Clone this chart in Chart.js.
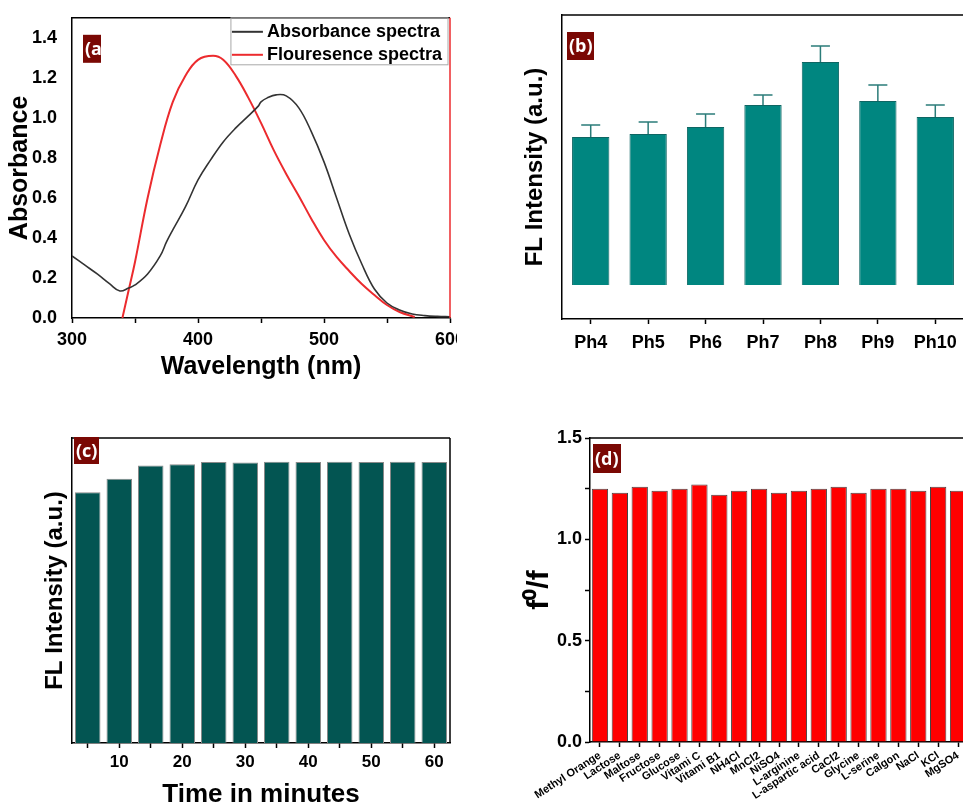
<!DOCTYPE html>
<html>
<head>
<meta charset="utf-8">
<script src="https://cdn.jsdelivr.net/npm/chart.js@4.4.1/dist/chart.umd.min.js"></script>
<style>
  html, body { margin: 0; padding: 0; background: #fff; }
  body { width: 963px; height: 805px; position: relative; overflow: hidden; }
  .panel { position: absolute; overflow: hidden; }
  .panel canvas { position: absolute; left: 0; top: 0; }
</style>
</head>
<body>
<div class="panel" style="left:0;top:0;width:457px;height:400px"><canvas id="chartA" width="490" height="400"></canvas></div>
<div class="panel" style="left:490px;top:0;width:473px;height:400px"><canvas id="chartB" width="490" height="400"></canvas></div>
<div class="panel" style="left:0;top:420px;width:470px;height:385px"><canvas id="chartC" width="470" height="400"></canvas></div>
<div class="panel" style="left:490px;top:420px;width:473px;height:385px"><canvas id="chartD" width="490" height="400"></canvas></div>
<script>
// (a) spectra
const absWl = [300, 310, 320, 330, 338, 345, 350, 360, 370, 375, 380, 390, 400, 410, 420, 430, 440, 448, 450, 455, 462, 470, 480, 490, 500, 510, 520, 530, 540, 550, 560, 570, 580, 590, 600]
const absVal = [0.31, 0.265, 0.22, 0.17, 0.135, 0.15, 0.165, 0.22, 0.31, 0.38, 0.44, 0.555, 0.69, 0.79, 0.88, 0.95, 1.01, 1.06, 1.08, 1.10, 1.115, 1.11, 1.05, 0.93, 0.78, 0.60, 0.42, 0.27, 0.145, 0.075, 0.04, 0.02, 0.012, 0.008, 0.006]
const flWl = [340, 345, 350, 360, 370, 380, 390, 400, 412, 420, 430, 440, 450, 460, 470, 480, 490, 500, 510, 520, 530, 540, 550, 560, 572]
const flVal = [0.0, 0.14, 0.28, 0.60, 0.865, 1.08, 1.21, 1.29, 1.31, 1.29, 1.21, 1.10, 0.975, 0.84, 0.72, 0.61, 0.495, 0.39, 0.305, 0.235, 0.17, 0.115, 0.065, 0.03, 0.005]

// (b) pH
const phLabels = ['Ph4', 'Ph5', 'Ph6', 'Ph7', 'Ph8', 'Ph9', 'Ph10']
const phValues = [148, 151, 158, 180, 223, 184, 168]
const phErrors = [12, 12, 13, 10, 16, 16, 12]

// (c) time
const timeLabels = ['5', '10', '15', '20', '25', '30', '35', '40', '45', '50', '55', '60']
const timeValues = [822, 866, 910, 914, 921, 920, 922, 921, 922, 921, 922, 921]

// (d) interference
const ionLabels = ['Methyl Orange', 'Lactose', 'Maltose', 'Fructose', 'Glucose', 'Vitami C', 'Vitami B1', 'NH4Cl', 'MnCl2', 'NiSO4', 'L-arginine', 'L-aspartic acid', 'CaCl2', 'Glycine', 'L-serine', 'Calgon', 'NaCl', 'KCl', 'MgSO4']
const ionValues = [1.25, 1.23, 1.26, 1.24, 1.25, 1.27, 1.22, 1.24, 1.25, 1.23, 1.24, 1.25, 1.26, 1.23, 1.25, 1.25, 1.24, 1.26, 1.24]

const FONT = '"Liberation Sans", Arial, Helvetica, sans-serif'
Chart.defaults.font.family = FONT
Chart.defaults.color = '#000'
Chart.defaults.animation = false
Chart.defaults.plugins.legend.display = false
Chart.defaults.plugins.tooltip.enabled = false

const axisBorder = { color: '#000', width: 1.5 }
const bold = (size) => ({ size, weight: 'bold' })

// top / right frame lines
const framePlugin = {
  id: 'frame',
  afterDraw(chart, args, opts) {
    const { ctx, chartArea: a } = chart
    ctx.save()
    ctx.lineWidth = 1.5
    ctx.strokeStyle = '#000'
    ctx.beginPath()
    ctx.moveTo(a.left, a.top)
    ctx.lineTo(a.right, a.top)
    ctx.stroke()
    if (opts.right) {
      ctx.strokeStyle = opts.right
      ctx.beginPath()
      ctx.moveTo(a.right, a.top)
      ctx.lineTo(a.right, a.bottom)
      ctx.stroke()
    }
    ctx.restore()
  },
}

// panel letter
const tagPlugin = {
  id: 'tag',
  afterDraw(chart, args, opts) {
    if (!opts.text) return
    const { ctx, chartArea: a } = chart
    const x = a.left + opts.dx
    const y = a.top + opts.dy
    ctx.save()
    ctx.fillStyle = '#7a0804'
    ctx.fillRect(x, y, opts.w, opts.h)
    ctx.fillStyle = '#fff'
    ctx.font = 'bold 18px "Open Sans", ' + FONT
    ctx.textBaseline = 'middle'
    ctx.fillText(opts.text, x + 2, y + opts.h / 2 + 1)
    ctx.restore()
  },
}

// upper error bars
const errorBarPlugin = {
  id: 'errorBars',
  afterDatasetsDraw(chart, args, opts) {
    if (!opts.errors) return
    const { ctx } = chart
    const yScale = chart.scales.y
    const values = chart.data.datasets[0].data
    ctx.save()
    ctx.strokeStyle = opts.color
    ctx.lineWidth = 1.5
    chart.getDatasetMeta(0).data.forEach((bar, i) => {
      const top = yScale.getPixelForValue(values[i] + opts.errors[i])
      ctx.beginPath()
      ctx.moveTo(bar.x, bar.y)
      ctx.lineTo(bar.x, top)
      ctx.moveTo(bar.x - 9.5, top)
      ctx.lineTo(bar.x + 9.5, top)
      ctx.stroke()
    })
    ctx.restore()
  },
}

// boxed legend inside the plot, top right
const boxLegendPlugin = {
  id: 'boxLegend',
  afterDraw(chart, args, opts) {
    if (!opts.show) return
    const { ctx, chartArea: a } = chart
    const sets = chart.data.datasets
    ctx.save()
    ctx.font = 'bold 18px ' + FONT
    const textW = Math.max(...sets.map((d) => ctx.measureText(d.label).width))
    const w = 36 + textW + 6
    const rowH = 23
    const x0 = a.right - w - 2
    const y0 = a.top
    ctx.strokeStyle = '#a8a8a8'
    ctx.lineWidth = 1
    ctx.strokeRect(x0, y0, w, sets.length * rowH + 1)
    sets.forEach((d, i) => {
      const y = y0 + 14 + i * rowH
      ctx.strokeStyle = d.borderColor
      ctx.lineWidth = 2
      ctx.beginPath()
      ctx.moveTo(x0 + 1, y)
      ctx.lineTo(x0 + 32, y)
      ctx.stroke()
      ctx.fillStyle = '#000'
      ctx.textBaseline = 'middle'
      ctx.fillText(d.label, x0 + 36, y)
    })
    ctx.restore()
  },
}

Chart.register(framePlugin, tagPlugin, errorBarPlugin, boxLegendPlugin)

new Chart(document.getElementById('chartA'), {
  type: 'line',
  data: {
    datasets: [
      {
        label: 'Absorbance spectra',
        data: absWl.map((x, i) => ({ x, y: absVal[i] })),
        borderColor: '#333333',
        borderWidth: 1.6,
        pointRadius: 0,
        tension: 0.4,
      },
      {
        label: 'Flouresence spectra',
        data: flWl.map((x, i) => ({ x, y: flVal[i] })),
        borderColor: '#ec2b2e',
        borderWidth: 2,
        pointRadius: 0,
        tension: 0.4,
      },
    ],
  },
  options: {
    responsive: false,
    layout: { padding: { left: 0, top: 15, right: 40, bottom: 0 } },
    scales: {
      x: {
        type: 'linear',
        min: 300,
        max: 600,
        ticks: { stepSize: 50, maxRotation: 0, autoSkip: false, padding: 6, font: bold(18), callback: (v) => (v % 100 === 0 ? v : '') },
        grid: { drawOnChartArea: false, tickLength: 5, color: '#000', tickWidth: 1.5 },
        border: axisBorder,
        title: { display: true, text: 'Wavelength (nm)', font: bold(25), padding: { top: 0, bottom: 18 } },
        afterFit: (s) => { s.height = 82 },
      },
      y: {
        min: 0,
        max: 1.5,
        ticks: { stepSize: 0.2, includeBounds: false, padding: 7, font: bold(18), callback: (v) => v.toFixed(1) },
        grid: { display: false },
        border: axisBorder,
        title: { display: true, text: 'Absorbance', font: bold(25), padding: { top: 5, bottom: 0 } },
        afterFit: (s) => { s.width = 72 },
      },
    },
    plugins: {
      frame: { right: '#ec2b2e' },
      tag: { text: '(a', dx: 11, dy: 17, w: 18, h: 28 },
      boxLegend: { show: true },
    },
  },
})

new Chart(document.getElementById('chartB'), {
  type: 'bar',
  data: {
    labels: phLabels,
    datasets: [{
      data: phValues,
      backgroundColor: '#008680',
      borderColor: '#0e6663',
      borderWidth: 1,
      categoryPercentage: 1,
      barPercentage: 0.65,
    }],
  },
  options: {
    responsive: false,
    layout: { padding: { left: 0, top: 15, right: 16, bottom: 0 } },
    scales: {
      x: {
        ticks: { padding: 8, font: bold(18), maxRotation: 0 },
        grid: { offset: false, drawOnChartArea: false, tickLength: 5, color: '#000', tickWidth: 1.5 },
        border: axisBorder,
        afterFit: (s) => { s.height = 81 },
      },
      y: {
        min: -34,
        max: 270,
        ticks: { display: false },
        grid: { display: false },
        border: axisBorder,
        title: { display: true, text: 'FL Intensity (a.u.)', font: bold(24), padding: { top: 31, bottom: 0 } },
        afterFit: (s) => { s.width = 72 },
      },
    },
    plugins: {
      frame: { right: '#000' },
      tag: { text: '(b)', dx: 5, dy: 17, w: 27, h: 28 },
      errorBars: { errors: phErrors, color: '#2b7c79' },
    },
  },
})

new Chart(document.getElementById('chartC'), {
  type: 'bar',
  data: {
    labels: timeLabels,
    datasets: [{
      data: timeValues,
      backgroundColor: '#035552',
      borderColor: '#8a8a8a',
      borderWidth: 1,
      categoryPercentage: 1,
      barPercentage: 0.81,
    }],
  },
  options: {
    responsive: false,
    layout: { padding: { left: 0, top: 18, right: 20, bottom: 0 } },
    scales: {
      x: {
        ticks: { padding: 4, font: bold(17), maxRotation: 0, autoSkip: false, callback: (v, i) => (i % 2 === 1 ? timeLabels[i] : '') },
        grid: { offset: false, drawOnChartArea: false, tickLength: 5, color: '#000', tickWidth: 1.5 },
        border: axisBorder,
        title: { display: true, text: 'Time in minutes', font: bold(26), padding: { top: 0, bottom: 10 } },
        afterFit: (s) => { s.height = 77 },
      },
      y: {
        min: 0,
        max: 1000,
        ticks: { display: false },
        grid: { display: false },
        border: axisBorder,
        title: { display: true, text: 'FL Intensity (a.u.)', font: bold(24), padding: { top: 41, bottom: 0 } },
        afterFit: (s) => { s.width = 72 },
      },
    },
    plugins: {
      frame: { right: '#000' },
      tag: { text: '(c)', dx: 2, dy: -1, w: 25, h: 27 },
    },
  },
})

new Chart(document.getElementById('chartD'), {
  type: 'bar',
  data: {
    labels: ionLabels,
    datasets: [{
      data: ionValues,
      backgroundColor: '#ff0000',
      borderColor: '#444444',
      borderWidth: 1,
      categoryPercentage: 1,
      barPercentage: 0.82,
    }],
  },
  options: {
    responsive: false,
    layout: { padding: { left: 0, top: 18, right: 12, bottom: 0 } },
    scales: {
      x: {
        ticks: { padding: 2, font: bold(11), minRotation: 33, maxRotation: 33, autoSkip: false },
        grid: { offset: false, drawOnChartArea: false, tickLength: 5, color: '#000', tickWidth: 1.5 },
        border: axisBorder,
        afterFit: (s) => { s.height = 78 },
      },
      y: {
        min: 0,
        max: 1.5,
        ticks: { stepSize: 0.25, padding: 3, font: bold(18), callback: (v) => (Math.abs(v * 2 - Math.round(v * 2)) < 1e-6 ? v.toFixed(1) : '') },
        grid: { drawOnChartArea: false, tickLength: 5, color: '#000', tickWidth: 1.5 },
        border: axisBorder,
        title: { display: true, text: 'f⁰/f', font: bold(30), padding: { top: 32, bottom: 0 } },
        afterFit: (s) => { s.width = 100 },
      },
    },
    plugins: {
      frame: { right: '#000' },
      tag: { text: '(d)', dx: 3, dy: 6, w: 28, h: 29 },
    },
  },
})
</script>
</body>
</html>
